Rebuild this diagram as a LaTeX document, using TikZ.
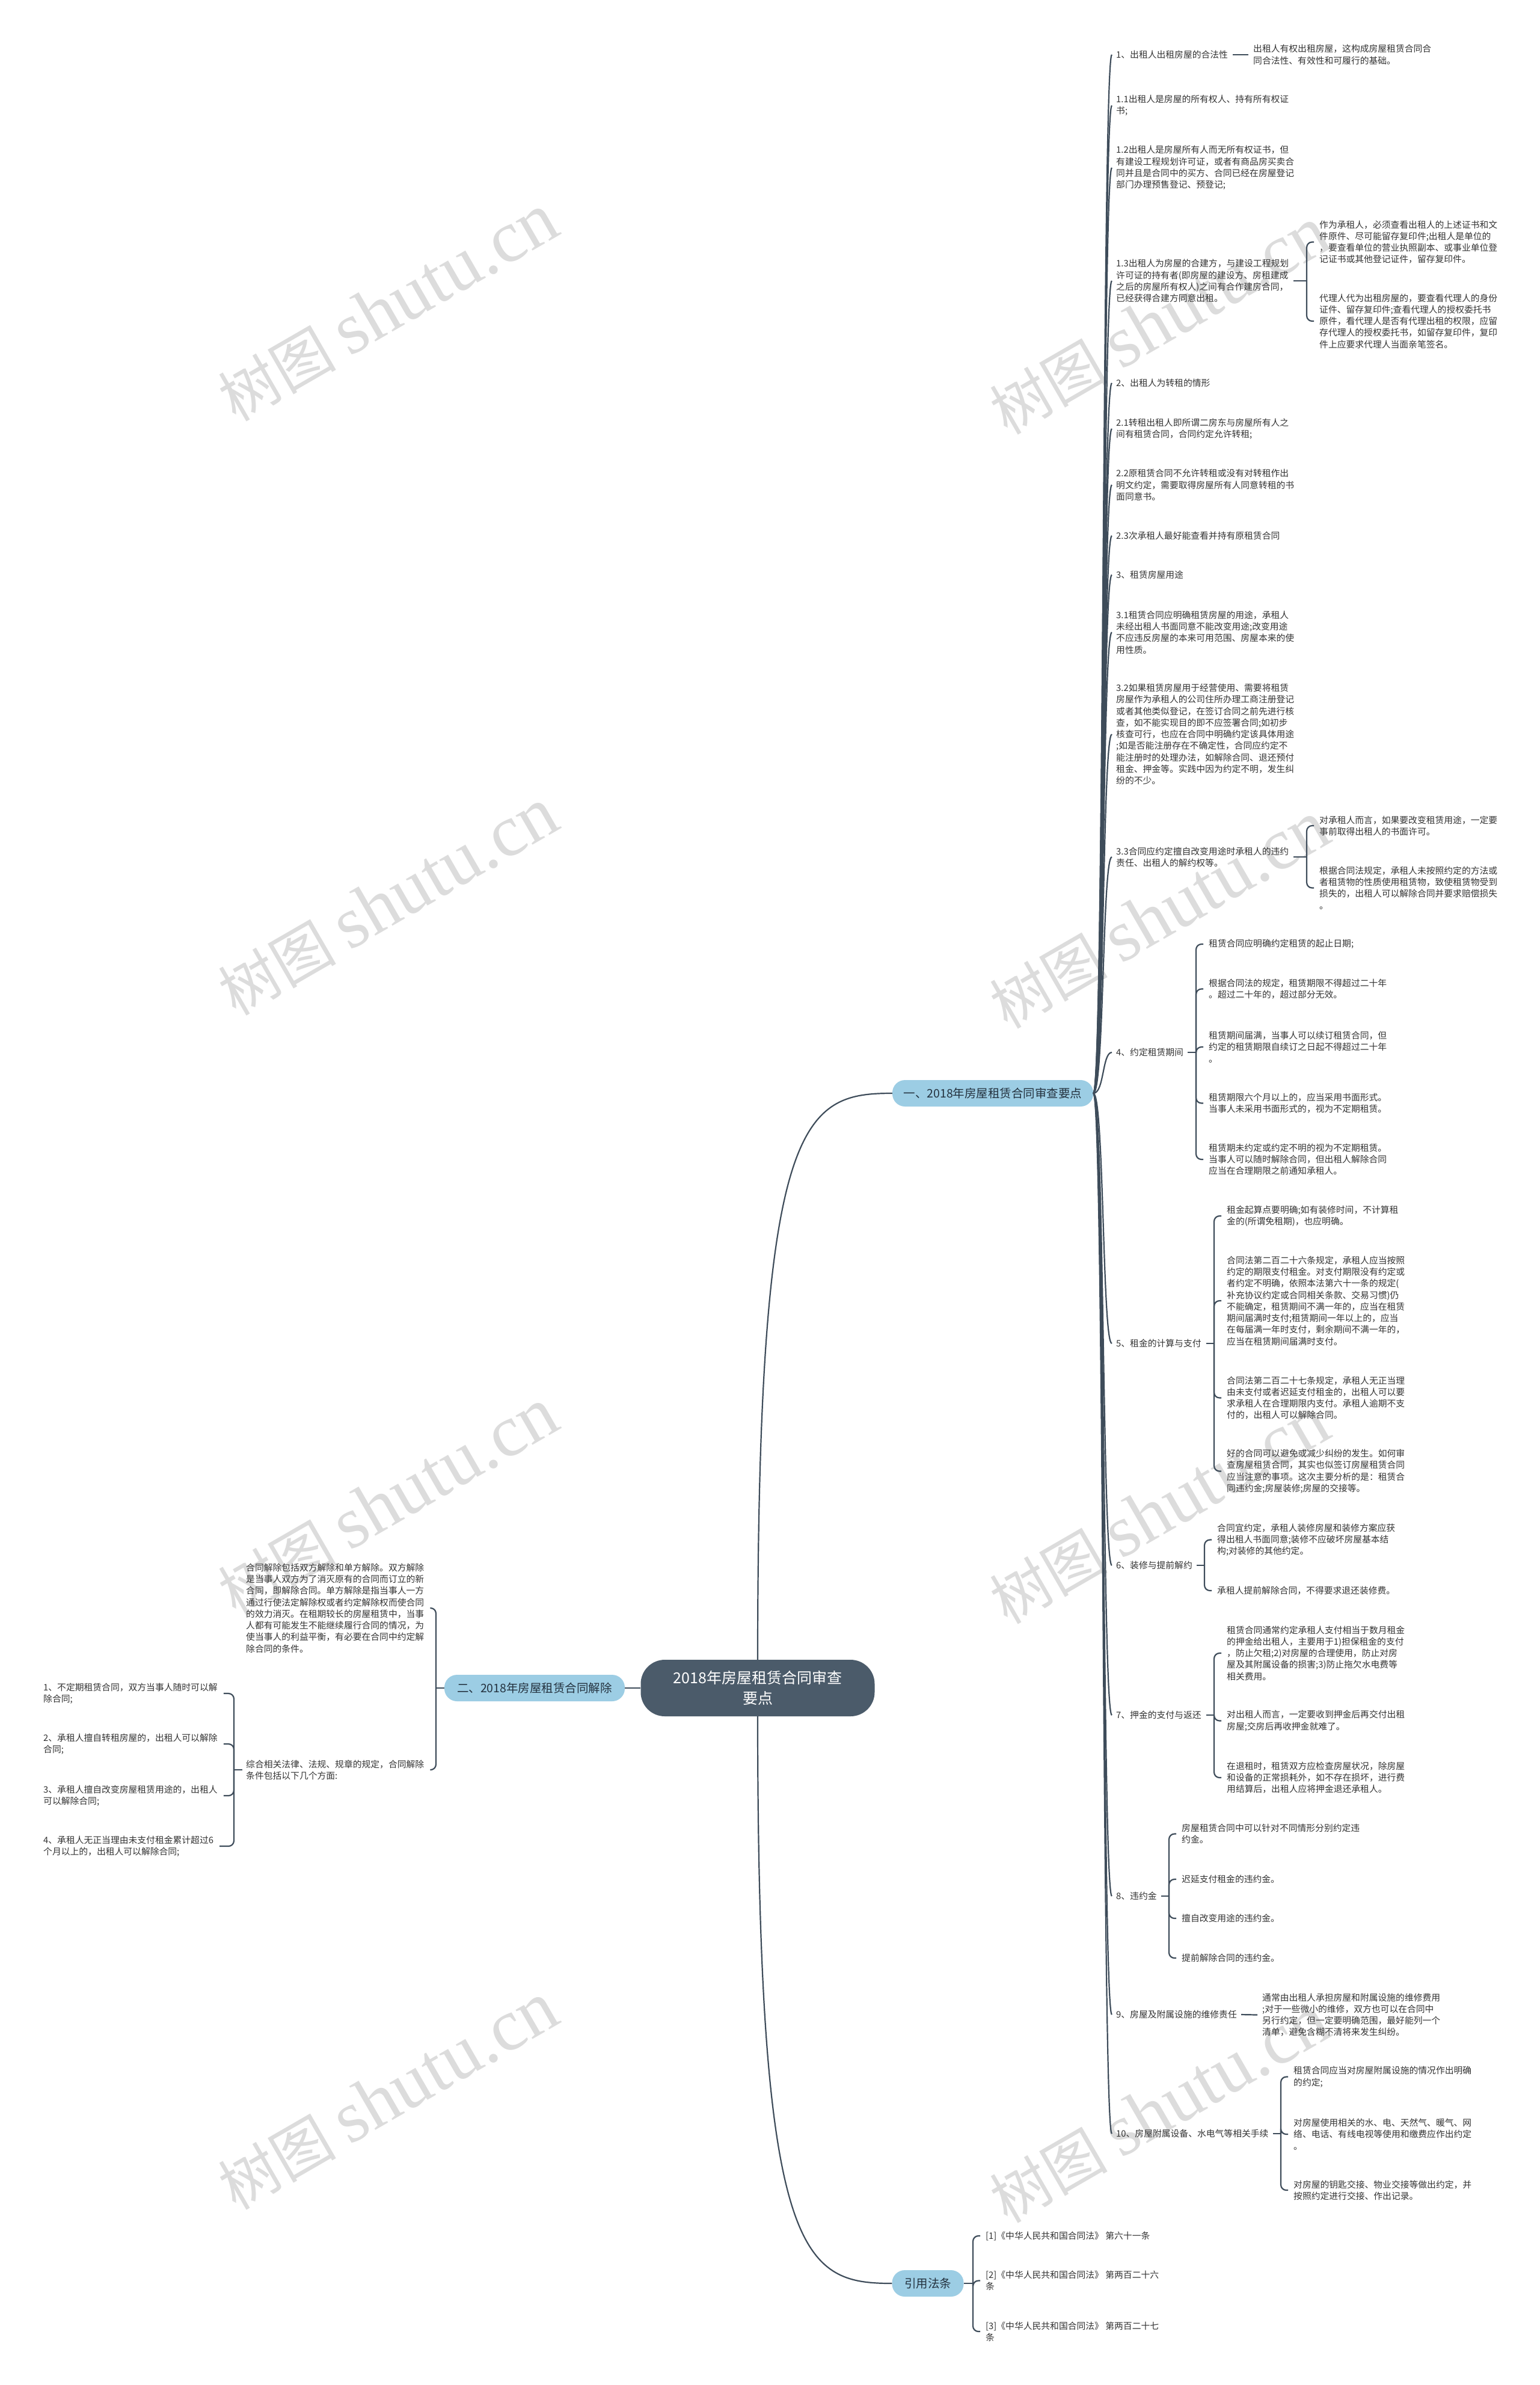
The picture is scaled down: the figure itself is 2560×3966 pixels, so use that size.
\documentclass[tikz,border=0pt]{standalone}
\usepackage{fontspec}
\setmainfont{Noto Sans CJK SC}
\newfontfamily\wmserif{Liberation Serif}
\definecolor{lncol}{HTML}{3E4C5A}
\definecolor{txtcol}{HTML}{333333}
\definecolor{brfill}{HTML}{9CCDE4}
\definecolor{brtext}{HTML}{24323F}
\definecolor{rootfill}{HTML}{4B5B6A}
\definecolor{wmcol}{HTML}{DCDCDC}
\begin{document}
\begin{tikzpicture}[x=1pt,y=-1pt,
  lc/.style={draw=lncol, line width=2.2pt},
  txt/.style={anchor=west, align=left, inner sep=0pt, font=\fontsize{14.8}{19.3}\selectfont, text=txtcol},
  brn/.style={fill=brfill, rounded corners=21pt, inner sep=0pt, font=\fontsize{19.5}{24}\selectfont, text=brtext, minimum height=44pt},
  rootn/.style={fill=rootfill, rounded corners=40pt, inner sep=0pt, align=center, font=\fontsize{25}{34}\selectfont, text=white, minimum width=389pt, minimum height=94pt},
  wm/.style={text=wmcol, rotate=30, inner sep=0pt}]
\useasboundingbox (0,0) rectangle (2560,3966);
\fill[white] (0,0) rectangle (2560,3966);
% watermarks
\foreach \wx/\wy in {645/512, 645/1500, 645/2498, 645/3486, 1928/534, 1928/1522, 1928/2512, 1928/3508}
  \node[wm] at (\wx,\wy) {{\fontsize{98}{110}\selectfont 树图}\hspace{22pt}{\wmserif\fontsize{122}{122}\selectfont shutu.cn}};

% root and branches
\node[rootn] (root) at (1260,2807) {2018年房屋租赁合同审查\\要点};
\node[brn, minimum width=334pt] (b1) at (1651,1818) {一、2018年房屋租赁合同审查要点};
\node[brn, minimum width=300pt] (b2) at (889,2807) {二、2018年房屋租赁合同解除};
\node[brn, minimum width=119pt] (b3) at (1543,3797) {引用法条};

\draw[lc] (root.north) .. controls +(0,-900) and +(-150,0) .. (b1.west);
\draw[lc] (root.south) .. controls +(0,900) and +(-150,0) .. (b3.west);
\draw[lc] (root.west) -- (b2.east);

% ---------- branch one: items ----------
\node[txt] (i1) at (1856,91) {1、出租人出租房屋的合法性};
\node[txt] (i11) at (1856,175.5) {1.1出租人是房屋的所有权人、持有所有权证\\书;};
\node[txt] (i12) at (1856,279) {1.2出租人是房屋所有人而无所有权证书，但\\有建设工程规划许可证，或者有商品房买卖合\\同并且是合同中的买方、合同已经在房屋登记\\部门办理预售登记、预登记;};
\node[txt] (i13) at (1856,467) {1.3出租人为房屋的合建方，与建设工程规划\\许可证的持有者(即房屋的建设方、房租建成\\之后的房屋所有权人)之间有合作建房合同，\\已经获得合建方同意出租。};
\node[txt] (i2) at (1856,637) {2、出租人为转租的情形};
\node[txt] (i21) at (1856,713) {2.1转租出租人即所谓二房东与房屋所有人之\\间有租赁合同，合同约定允许转租;};
\node[txt] (i22) at (1856,806.5) {2.2原租赁合同不允许转租或没有对转租作出\\明文约定，需要取得房屋所有人同意转租的书\\面同意书。};
\node[txt] (i23) at (1856,891) {2.3次承租人最好能查看并持有原租赁合同};
\node[txt] (i3) at (1856,956) {3、租赁房屋用途};
\node[txt] (i31) at (1856,1051.5) {3.1租赁合同应明确租赁房屋的用途，承租人\\未经出租人书面同意不能改变用途;改变用途\\不应违反房屋的本来可用范围、房屋本来的使\\用性质。};
\node[txt] (i32) at (1856,1221) {3.2如果租赁房屋用于经营使用、需要将租赁\\房屋作为承租人的公司住所办理工商注册登记\\或者其他类似登记，在签订合同之前先进行核\\查，如不能实现目的即不应签署合同;如初步\\核查可行，也应在合同中明确约定该具体用途\\;如是否能注册存在不确定性，合同应约定不\\能注册时的处理办法，如解除合同、退还预付\\租金、押金等。实践中因为约定不明，发生纠\\纷的不少。};
\node[txt] (i33) at (1856,1425) {3.3合同应约定擅自改变用途时承租人的违约\\责任、出租人的解约权等。};
\node[txt] (i4) at (1856,1750) {4、约定租赁期间};
\node[txt] (i5) at (1856,2234) {5、租金的计算与支付};
\node[txt] (i6) at (1856,2603) {6、装修与提前解约};
\node[txt] (i7) at (1856,2852) {7、押金的支付与返还};
\node[txt] (i8) at (1856,3153) {8、违约金};
\node[txt] (i9) at (1856,3350) {9、房屋及附属设施的维修责任};
\node[txt] (i10) at (1856,3548) {10、房屋附属设备、水电气等相关手续};

\foreach \n in {i1,i11,i12,i13,i2,i21,i22,i23,i3,i31,i32,i33,i4,i5,i6,i7,i8,i9,i10}
  \draw[lc] (b1.east) .. controls +(18,0) and +(-16,0) .. ([xshift=-7pt]\n.west);

% children of 1
\node[txt] (c1) at (2084,91) {出租人有权出租房屋，这构成房屋租赁合同合\\同合法性、有效性和可履行的基础。};
\draw[lc] ([xshift=8pt]i1.east) -- ([xshift=-8pt]c1.west);

% children of 1.3
\node[txt] (c13a) at (2194,402.5) {作为承租人，必须查看出租人的上述证书和文\\件原件、尽可能留存复印件;出租人是单位的\\，要查看单位的营业执照副本、或事业单位登\\记证书或其他登记证件，留存复印件。};
\node[txt] (c13b) at (2194,534) {代理人代为出租房屋的，要查看代理人的身份\\证件、留存复印件;查看代理人的授权委托书\\原件，看代理人是否有代理出租的权限，应留\\存代理人的授权委托书，如留存复印件，复印\\件上应要求代理人当面亲笔签名。};
\coordinate (k13) at (2173,467);
\draw[lc] ([xshift=8pt]i13.east) -- (k13);
\foreach \c in {c13a,c13b} \draw[lc, rounded corners=9pt] (k13) |- ([xshift=-9pt]\c.west);

% children of 3.3
\node[txt] (c33a) at (2194,1373) {对承租人而言，如果要改变租赁用途，一定要\\事前取得出租人的书面许可。};
\node[txt] (c33b) at (2194,1476.5) {根据合同法规定，承租人未按照约定的方法或\\者租赁物的性质使用租赁物，致使租赁物受到\\损失的，出租人可以解除合同并要求赔偿损失\\。};
\coordinate (k33) at (2173,1425);
\draw[lc] ([xshift=8pt]i33.east) -- (k33);
\foreach \c in {c33a,c33b} \draw[lc, rounded corners=9pt] (k33) |- ([xshift=-9pt]\c.west);

% children of 4
\node[txt] (c4a) at (2010,1570) {租赁合同应明确约定租赁的起止日期;};
\node[txt] (c4b) at (2010,1644.5) {根据合同法的规定，租赁期限不得超过二十年\\。超过二十年的，超过部分无效。};
\node[txt] (c4c) at (2010,1741) {租赁期间届满，当事人可以续订租赁合同，但\\约定的租赁期限自续订之日起不得超过二十年\\。};
\node[txt] (c4d) at (2010,1834.5) {租赁期限六个月以上的，应当采用书面形式。\\当事人未采用书面形式的，视为不定期租赁。};
\node[txt] (c4e) at (2010,1928) {租赁期未约定或约定不明的视为不定期租赁。\\当事人可以随时解除合同，但出租人解除合同\\应当在合理期限之前通知承租人。};
\coordinate (k4) at (1989,1750);
\draw[lc] ([xshift=7pt]i4.east) -- (k4);
\foreach \c in {c4a,c4b,c4c,c4d,c4e} \draw[lc, rounded corners=9pt] (k4) |- ([xshift=-9pt]\c.west);

% children of 5
\node[txt] (c5a) at (2040,2022) {租金起算点要明确;如有装修时间，不计算租\\金的(所谓免租期)，也应明确。};
\node[txt] (c5b) at (2040,2163) {合同法第二百二十六条规定，承租人应当按照\\约定的期限支付租金。对支付期限没有约定或\\者约定不明确，依照本法第六十一条的规定(\\补充协议约定或合同相关条款、交易习惯)仍\\不能确定，租赁期间不满一年的，应当在租赁\\期间届满时支付;租赁期间一年以上的，应当\\在每届满一年时支付，剩余期间不满一年的，\\应当在租赁期间届满时支付。};
\node[txt] (c5c) at (2040,2324.5) {合同法第二百二十七条规定，承租人无正当理\\由未支付或者迟延支付租金的，出租人可以要\\求承租人在合理期限内支付。承租人逾期不支\\付的，出租人可以解除合同。};
\node[txt] (c5d) at (2040,2446.5) {好的合同可以避免或减少纠纷的发生。如何审\\查房屋租赁合同，其实也似签订房屋租赁合同\\应当注意的事项。这次主要分析的是：租赁合\\同违约金;房屋装修;房屋的交接等。};
\coordinate (k5) at (2019,2234);
\draw[lc] ([xshift=8pt]i5.east) -- (k5);
\foreach \c in {c5a,c5b,c5c,c5d} \draw[lc, rounded corners=9pt] (k5) |- ([xshift=-9pt]\c.west);

% children of 6
\node[txt] (c6a) at (2024,2560.5) {合同宜约定，承租人装修房屋和装修方案应获\\得出租人书面同意;装修不应破坏房屋基本结\\构;对装修的其他约定。};
\node[txt] (c6b) at (2024,2645) {承租人提前解除合同，不得要求退还装修费。};
\coordinate (k6) at (2003,2603);
\draw[lc] ([xshift=7pt]i6.east) -- (k6);
\foreach \c in {c6a,c6b} \draw[lc, rounded corners=9pt] (k6) |- ([xshift=-9pt]\c.west);

% children of 7
\node[txt] (c7a) at (2040,2749) {租赁合同通常约定承租人支付相当于数月租金\\的押金给出租人，主要用于1)担保租金的支付\\，防止欠租;2)对房屋的合理使用，防止对房\\屋及其附属设备的损害;3)防止拖欠水电费等\\相关费用。};
\node[txt] (c7b) at (2040,2861.5) {对出租人而言，一定要收到押金后再交付出租\\房屋;交房后再收押金就难了。};
\node[txt] (c7c) at (2040,2956) {在退租时，租赁双方应检查房屋状况，除房屋\\和设备的正常损耗外，如不存在损坏，进行费\\用结算后，出租人应将押金退还承租人。};
\coordinate (k7) at (2019,2852);
\draw[lc] ([xshift=8pt]i7.east) -- (k7);
\foreach \c in {c7a,c7b,c7c} \draw[lc, rounded corners=9pt] (k7) |- ([xshift=-9pt]\c.west);

% children of 8
\node[txt] (c8a) at (1965,3049.5) {房屋租赁合同中可以针对不同情形分别约定违\\约金。};
\node[txt] (c8b) at (1965,3125) {迟延支付租金的违约金。};
\node[txt] (c8c) at (1965,3190) {擅自改变用途的违约金。};
\node[txt] (c8d) at (1965,3256) {提前解除合同的违约金。};
\coordinate (k8) at (1944,3153);
\draw[lc] ([xshift=7pt]i8.east) -- (k8);
\foreach \c in {c8a,c8b,c8c,c8d} \draw[lc, rounded corners=9pt] (k8) |- ([xshift=-9pt]\c.west);

% child of 9
\node[txt] (c9) at (2099,3350.5) {通常由出租人承担房屋和附属设施的维修费用\\;对于一些微小的维修，双方也可以在合同中\\另行约定，但一定要明确范围，最好能列一个\\清单，避免含糊不清将来发生纠纷。};
\draw[lc] ([xshift=7pt]i9.east) -- ([xshift=-8pt]c9.west);

% children of 10
\node[txt] (c10a) at (2151,3453.5) {租赁合同应当对房屋附属设施的情况作出明确\\的约定;};
\node[txt] (c10b) at (2151,3549) {对房屋使用相关的水、电、天然气、暖气、网\\络、电话、有线电视等使用和缴费应作出约定\\。};
\node[txt] (c10c) at (2151,3642) {对房屋的钥匙交接、物业交接等做出约定，并\\按照约定进行交接、作出记录。};
\coordinate (k10) at (2130,3548);
\draw[lc] ([xshift=7pt]i10.east) -- (k10);
\foreach \c in {c10a,c10b,c10c} \draw[lc, rounded corners=9pt] (k10) |- ([xshift=-9pt]\c.west);

% ---------- laws ----------
\node[txt] (l1) at (1639,3718) {[1]《中华人民共和国合同法》 第六十一条};
\node[txt] (l2) at (1639,3792.5) {[2]《中华人民共和国合同法》 第两百二十六\\条};
\node[txt] (l3) at (1639,3877) {[3]《中华人民共和国合同法》 第两百二十七\\条};
\coordinate (kl) at (1618,3797);
\draw[lc] (b3.east) -- (kl);
\foreach \c in {l1,l2,l3} \draw[lc, rounded corners=9pt] (kl) |- ([xshift=-9pt]\c.west);

% ---------- branch two ----------
\node[txt] (cA) at (409,2674) {合同解除包括双方解除和单方解除。双方解除\\是当事人双方为了消灭原有的合同而订立的新\\合同，即解除合同。单方解除是指当事人一方\\通过行使法定解除权或者约定解除权而使合同\\的效力消灭。在租期较长的房屋租赁中，当事\\人都有可能发生不能继续履行合同的情况，为\\使当事人的利益平衡，有必要在合同中约定解\\除合同的条件。};
\node[txt] (cB) at (409,2943) {综合相关法律、法规、规章的规定，合同解除\\条件包括以下几个方面:};
\coordinate (kL) at (725,2807);
\draw[lc] (b2.west) -- (kL);
\foreach \c in {cA,cB} \draw[lc, rounded corners=9pt] (kL) |- ([xshift=10pt]\c.east);

\node[txt] (d1) at (72,2816) {1、不定期租赁合同，双方当事人随时可以解\\除合同;};
\node[txt] (d2) at (72,2900) {2、承租人擅自转租房屋的，出租人可以解除\\合同;};
\node[txt] (d3) at (72,2986) {3、承租人擅自改变房屋租赁用途的，出租人\\可以解除合同;};
\node[txt] (d4) at (72,3070) {4、承租人无正当理由未支付租金累计超过6\\个月以上的，出租人可以解除合同;};
\coordinate (kB) at (389,2943);
\draw[lc] ([xshift=-6pt]cB.west) -- (kB);
\foreach \c in {d1,d2,d3,d4} \draw[lc, rounded corners=9pt] (kB) |- ([xshift=10pt]\c.east);
\end{tikzpicture}
\end{document}
